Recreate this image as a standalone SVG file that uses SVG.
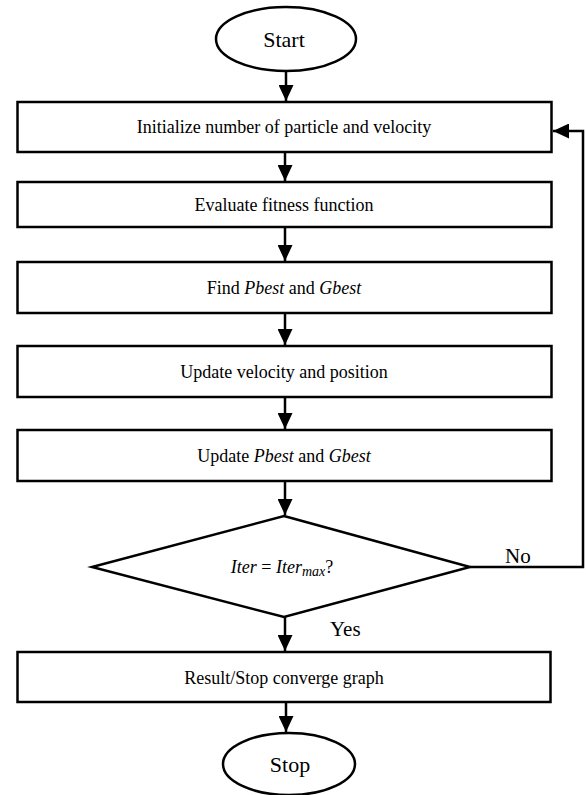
<svg xmlns="http://www.w3.org/2000/svg" width="586" height="795" viewBox="0 0 586 795">
<style>
.shape{fill:#fff;stroke:#000;stroke-width:2.5}
.conn{fill:none;stroke:#000;stroke-width:2.5}
text{font-family:"Liberation Serif","Times New Roman",serif;font-size:18px;fill:#000}
.c{text-anchor:middle}
.i{font-style:italic}
.term{font-size:22px}
.lbl{font-size:21px}
</style>
<defs>
<marker id="ah" markerUnits="userSpaceOnUse" markerWidth="16" markerHeight="15" refX="16" refY="7.5" orient="auto">
<path d="M0,0 L16,7.5 L0,15 z" fill="#000"/>
</marker>
</defs>
<g id="start">
<ellipse class="shape" cx="286" cy="39" rx="70" ry="32"/>
<text class="c term" x="284" y="47">Start</text>
</g>
<g id="init">
<rect class="shape" x="17.5" y="102" width="534" height="50"/>
<text class="c" x="284" y="133">Initialize number of particle and velocity</text>
</g>
<g id="evaluate">
<rect class="shape" x="17.5" y="182" width="534" height="45"/>
<text class="c" x="284" y="211">Evaluate fitness function</text>
</g>
<g id="find">
<rect class="shape" x="17.5" y="262" width="534" height="51"/>
<text class="c" x="284" y="294">Find <tspan class="i">Pbest</tspan> and <tspan class="i">Gbest</tspan></text>
</g>
<g id="updatevel">
<rect class="shape" x="17.5" y="346" width="534" height="51"/>
<text class="c" x="284" y="378">Update velocity and position</text>
</g>
<g id="updatebest">
<rect class="shape" x="17.5" y="430" width="534" height="51"/>
<text class="c" x="284" y="462">Update <tspan class="i">Pbest</tspan> and <tspan class="i">Gbest</tspan></text>
</g>
<g id="decision">
<polygon class="shape" points="284,516 470,567 284,617 92,567"/>
<text class="c" x="282" y="573" font-size="21"><tspan class="i">Iter</tspan> = <tspan class="i">Iter</tspan><tspan class="i" font-size="14" dy="3">max</tspan><tspan dy="-3">?</tspan></text>
</g>
<g id="result">
<rect class="shape" x="17.5" y="652" width="533" height="50"/>
<text class="c" x="284" y="684">Result/Stop converge graph</text>
</g>
<g id="stop">
<ellipse class="shape" cx="289" cy="764" rx="66" ry="31"/>
<text class="c term" x="290" y="772" font-size="21">Stop</text>
</g>
<g id="connectors">
<line class="conn" x1="286" y1="71" x2="286" y2="101" marker-end="url(#ah)"/>
<line class="conn" x1="285" y1="152" x2="285" y2="181" marker-end="url(#ah)"/>
<line class="conn" x1="285" y1="227" x2="285" y2="261" marker-end="url(#ah)"/>
<line class="conn" x1="285" y1="313" x2="285" y2="345" marker-end="url(#ah)"/>
<line class="conn" x1="285" y1="397" x2="285" y2="429" marker-end="url(#ah)"/>
<line class="conn" x1="285" y1="481" x2="285" y2="515" marker-end="url(#ah)"/>
<line class="conn" x1="285" y1="617" x2="285" y2="651" marker-end="url(#ah)"/>
<line class="conn" x1="286" y1="702" x2="286" y2="732" marker-end="url(#ah)"/>
<polyline class="conn" points="470,567 583,567 583,131 553,131" marker-end="url(#ah)"/>
<text class="lbl" x="505" y="563">No</text>
<text class="lbl" x="330" y="636">Yes</text>
</g>
</svg>
